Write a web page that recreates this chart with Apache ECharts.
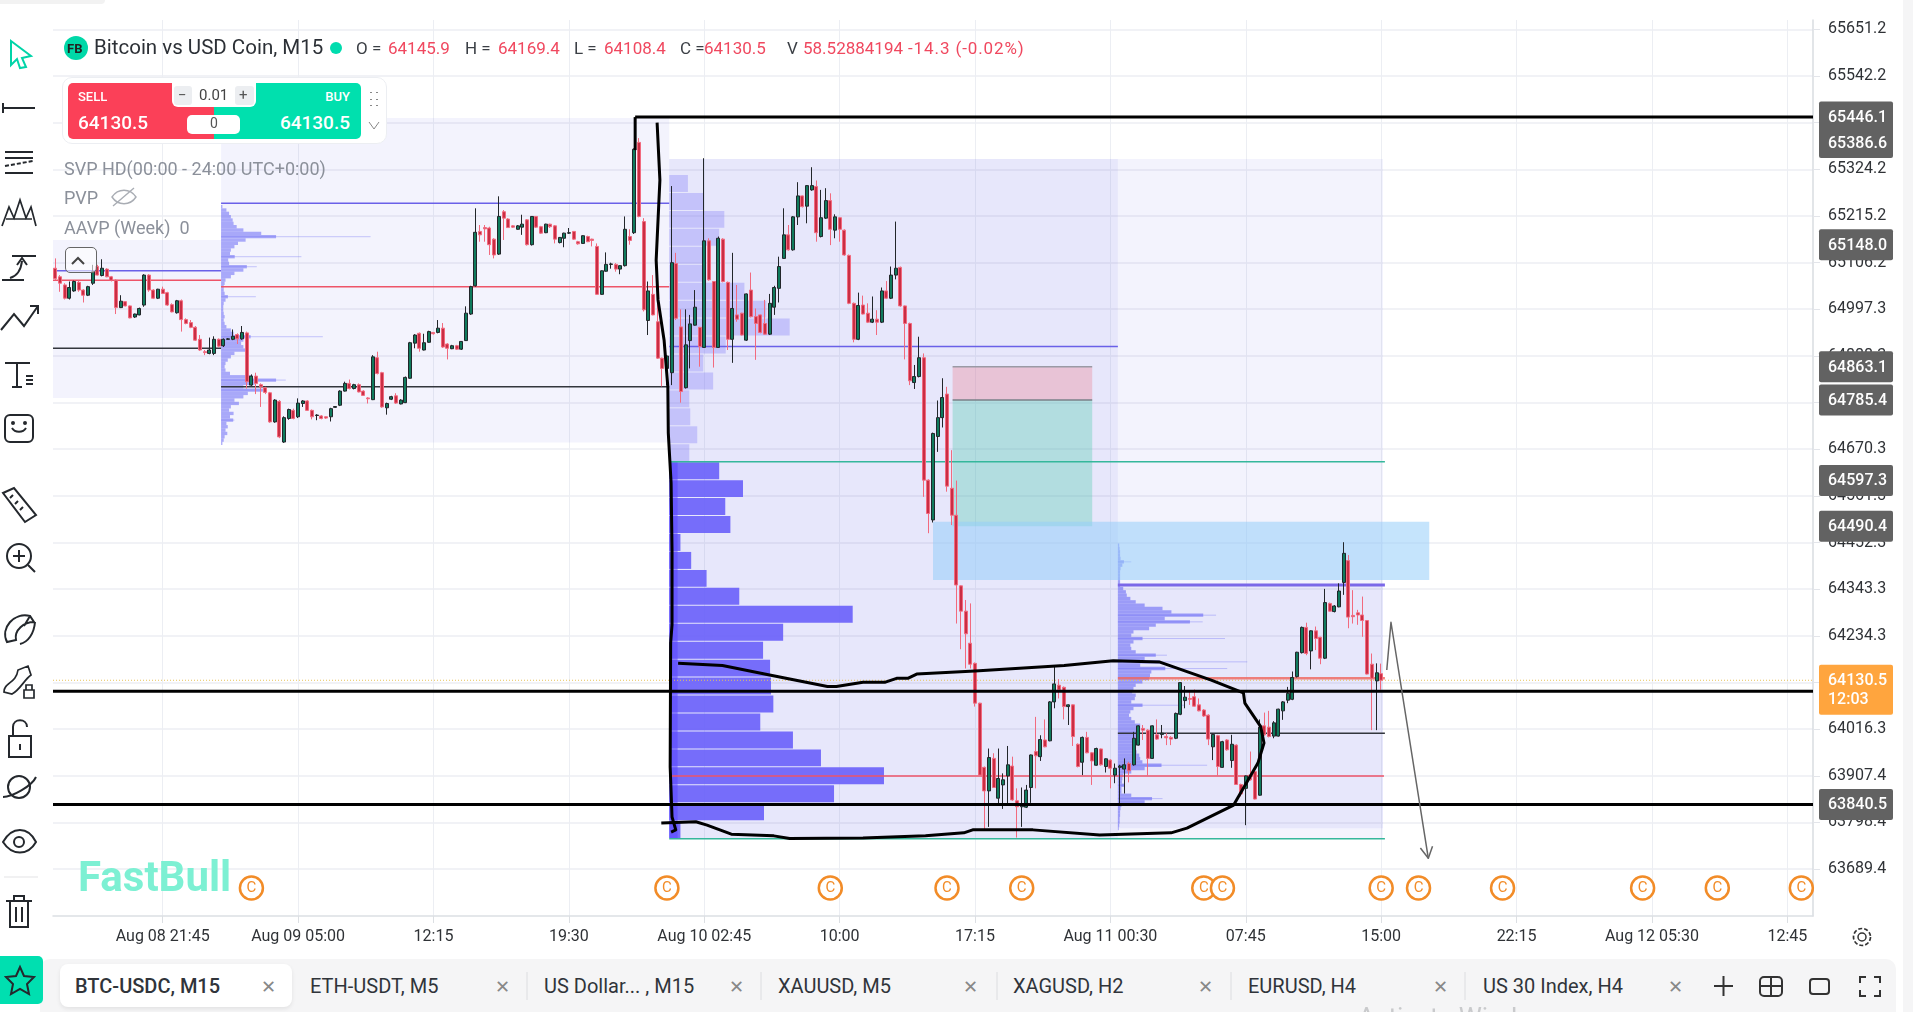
<!DOCTYPE html>
<html><head><meta charset="utf-8"><title>BTC-USDC M15</title>
<script src="https://cdn.jsdelivr.net/npm/echarts@6/dist/echarts.min.js"></script>
<style>
html,body{margin:0;padding:0;background:#fff;overflow:hidden;font-family:Roboto,"Noto Sans",sans-serif}
#chart{position:absolute;left:0;top:0;width:1913px;height:1012px}
.t{position:absolute;white-space:nowrap;transform:translateY(-50%);z-index:5}
.b{position:absolute;z-index:4}
svg{position:absolute;left:0;top:0;z-index:6;pointer-events:none}
.gr{color:#8b909a;font-size:18px}.rd{color:#f0485f;font-size:17px}.dk{color:#3b3f45;font-size:17px}
.tab{font-size:20px;color:#30343a}.x{font-size:18px;color:#888;font-weight:300}
</style></head><body>
<div id="chart"></div>
<div class="b" style="left:0;top:0;width:105px;height:4px;background:#f2f2f2;border-radius:0 0 6px 0"></div>
<div class="b" style="left:1903px;top:0;width:10px;height:1012px;background:#f5f5f6"></div>
<!-- legend -->
<div class="b" style="left:64px;top:36px;width:24px;height:24px;border-radius:50%;background:#00d8a8"></div>
<div class="t" style="left:67px;top:48px;font-size:13px;font-weight:700;color:#222">FB</div>
<div class="t" style="left:94px;top:47px;font-size:20.5px;color:#2c3036">Bitcoin vs USD Coin, M15</div>
<div class="b" style="left:330px;top:42px;width:12px;height:12px;border-radius:50%;background:#00dcae"></div>
<div class="t dk" style="left:356px;top:48px">O =</div><div class="t rd" style="left:388px;top:48px">64145.9</div>
<div class="t dk" style="left:465px;top:48px">H =</div><div class="t rd" style="left:498px;top:48px">64169.4</div>
<div class="t dk" style="left:574px;top:48px">L =</div><div class="t rd" style="left:604px;top:48px">64108.4</div>
<div class="t dk" style="left:680px;top:48px">C =</div><div class="t rd" style="left:704px;top:48px">64130.5</div>
<div class="t dk" style="left:787px;top:48px">V</div><div class="t rd" style="left:803px;top:48px">58.52884194</div>
<div class="t rd" style="left:908px;top:48px;letter-spacing:.9px">-14.3 (-0.02%)</div>
<!-- order panel -->
<div class="b" style="left:62px;top:77px;width:325px;height:67px;background:#fff;border:1px solid #eceef2;border-radius:10px;box-sizing:border-box"></div>
<div class="b" style="left:68px;top:83px;width:146px;height:56px;background:#fb4058;border-radius:5px 0 0 5px"></div>
<div class="b" style="left:214px;top:83px;width:147px;height:56px;background:#00e0ae;border-radius:0 5px 5px 0"></div>
<div class="t" style="left:78px;top:96px;font-size:13px;font-weight:500;color:#fff">SELL</div>
<div class="t" style="left:78px;top:122px;font-size:19px;font-weight:500;color:#fff">64130.5</div>
<div class="t" style="right:1563px;top:96px;font-size:13px;font-weight:500;color:#fff">BUY</div>
<div class="t" style="right:1563px;top:122px;font-size:19px;font-weight:500;color:#fff">64130.5</div>
<div class="b" style="left:172px;top:83px;width:84px;height:24px;background:#fff;border-radius:0 0 6px 6px;z-index:5"></div>
<div class="b" style="left:174px;top:86px;width:18px;height:19px;background:#eceef1;border-radius:3px;z-index:5"></div>
<div class="b" style="left:235px;top:86px;width:19px;height:19px;background:#eceef1;border-radius:3px;z-index:5"></div>
<div class="t" style="left:178px;top:95px;font-size:15px;color:#555;z-index:6">−</div>
<div class="t" style="left:199px;top:95px;font-size:15px;color:#444;z-index:6">0.01</div>
<div class="t" style="left:239px;top:95px;font-size:15px;color:#555;z-index:6">+</div>
<div class="b" style="left:187px;top:115px;width:53px;height:19px;background:#fff;border-radius:5px;z-index:5"></div>
<div class="t" style="left:210px;top:123px;font-size:14px;color:#555;z-index:6">0</div>
<div class="t gr" style="left:64px;top:168px">SVP HD(00:00 - 24:00 UTC+0:00)</div>
<div class="t gr" style="left:64px;top:197px">PVP</div>
<div class="t gr" style="left:64px;top:227px">AAVP (Week)&nbsp; 0</div>
<div class="b" style="left:65px;top:247px;width:32px;height:26px;border:1px solid #666;border-radius:5px;box-sizing:border-box;background:rgba(255,255,255,.6)"></div>
<div class="t" style="left:78px;top:876px;font-size:42px;font-weight:700;color:#7df0d3">FastBull</div>
<!-- tabs -->
<div class="b" style="left:40px;top:959px;width:1856px;height:53px;background:#f5f5f6;border-radius:10px 10px 0 0"></div>
<div class="b" style="left:60px;top:964px;width:232px;height:43px;background:#fff;border-radius:8px;box-shadow:0 2px 4px rgba(0,0,0,.08);z-index:4"></div>
<div class="b" style="left:0;top:956px;width:43px;height:48px;background:#00dfb0;border-radius:0 5px 5px 0"></div>
<div class="t tab" style="left:75px;top:986px;font-weight:500">BTC-USDC, M15</div><div class="t x" style="left:261px;top:986px">✕</div>
<div class="t tab" style="left:310px;top:986px">ETH-USDT, M5</div><div class="t x" style="left:495px;top:986px">✕</div>
<div class="t tab" style="left:544px;top:986px">US Dollar... , M15</div><div class="t x" style="left:729px;top:986px">✕</div>
<div class="t tab" style="left:778px;top:986px">XAUUSD, M5</div><div class="t x" style="left:963px;top:986px">✕</div>
<div class="t tab" style="left:1013px;top:986px">XAGUSD, H2</div><div class="t x" style="left:1198px;top:986px">✕</div>
<div class="t tab" style="left:1248px;top:986px">EURUSD, H4</div><div class="t x" style="left:1433px;top:986px">✕</div>
<div class="t tab" style="left:1483px;top:986px">US 30 Index, H4</div><div class="t x" style="left:1668px;top:986px">✕</div>
<div class="t" style="left:1358px;top:1017px;font-size:26px;color:#c9cacc">Activate Windows</div>
<svg width="1913" height="1012" viewBox="0 0 1913 1012" fill="none" stroke="#24282d" stroke-width="2">
<path d="M11 41 31 56 22 58 26 67 20 68 17 59 11 65Z" stroke="#00d4a8"/>
<path d="M3 108H35M3 103V113"/>
<path d="M5 152H33M5 158H33M5 173H33"/><path d="M5 166 33 161" stroke-dasharray="4 2"/>
<path d="M2 226 9 207 14 218 20 200 26 218 31 207 36 226M6 219H32" stroke-width="1.7"/>
<path d="M12 256H36M2 280H24M10 278C17 276 21 270 22 261M17 265 22 258 27 265"/>
<path d="M1 330 14 314 24 326 38 306M30 306H38V314"/>
<path d="M5 363H30M17 363V386M12 387H22M26 380H33M26 384H33M26 376H33"/>
<rect x="5" y="415" width="28" height="27" rx="5"/><path d="M12 428C15 433 23 433 26 428"/><circle cx="13" cy="423" r="1"/><circle cx="25" cy="423" r="1"/>
<path d="M3 493 14 488 36 515 25 522ZM10 498 13 495M15 504 18 501M20 510 23 507"/>
<circle cx="19" cy="556" r="12"/><path d="M28 565 35 572M19 550V562M13 556H25"/>
<path d="M7 642C0 628 14 612 30 616L34 622C24 622 14 630 16 640ZM7 642 16 640M30 616 24 626M20 644C28 642 34 634 35 622"/>
<path d="M4 692C4 682 16 684 18 670L28 666 31 675C24 680 20 690 12 694ZM24 690H34V698H24ZM26 690V685H32V690" stroke-width="1.7"/>
<path d="M9 736H31V757H9ZM13 736V727C13 718 27 718 27 727M20 744V750"/>
<circle cx="19" cy="787" r="11"/><path d="M3 797C12 797 32 786 36 777"/>
<path d="M3 842C12 826 28 826 36 842C28 856 12 856 3 842Z"/><circle cx="19" cy="842" r="5"/>
<path d="M6 901H32M14 901V896H24V901M10 901V927H28V901M16 907V922M22 907V922"/>
<path d="M4 877H38" stroke="#ececee" stroke-width="1.5"/>
<path d="M20 967 24 976 34 977 27 984 29 994 20 989 11 994 13 984 6 977 16 976Z"/>
<path d="M72 264 78 258 84 264" stroke="#444"/>
<path d="M112 197C118 188 130 188 136 197C130 206 118 206 112 197ZM113 206 134 188" stroke="#a9adb4" stroke-width="1.4"/>
<path d="M369 122 374 129 379 122" stroke="#888" stroke-width="1"/>
<path d="M371 92v1M377 92v1M371 99v1M377 99v1M371 105v1M377 105v1" stroke="#888" stroke-width="2"/>
<circle cx="1862" cy="937" r="4" stroke="#333" stroke-width="1.5"/><circle cx="1862" cy="937" r="8.5" stroke="#333" stroke-width="1.7" stroke-dasharray="4 2"/>
<path d="M1714 986H1733M1723.5 976V996" stroke="#333"/>
<rect x="1760" y="977" width="22" height="19" rx="4" stroke="#333"/><path d="M1760 986H1782M1771 977V996" stroke="#333"/>
<rect x="1810" y="979" width="19" height="15" rx="3" stroke="#333"/>
<path d="M1860 983V977H1866M1874 977H1880V983M1880 990V996H1874M1866 996H1860V990" stroke="#333"/>
<path d="M527 972V1000M761 972V1000M997 972V1000M1231 972V1000M1465 972V1000" stroke="#dcdde0" stroke-width="1"/>
</svg>
<script>
// ---------- axis values ----------
const yTickLabels = [65651.2,65542.2,65433.2,65324.2,65215.2,65106.2,64997.3,64888.3,64779.3,64670.3,64561.3,64452.3,64343.3,64234.3,64125.3,64016.3,63907.4,63798.4,63689.4];
const xTickLabels = ['Aug 08 21:45','Aug 09 05:00','12:15','19:30','Aug 10 02:45','10:00','17:15','Aug 11 00:30','07:45','15:00','22:15','Aug 12 05:30','12:45'];
const firstTickBar = 23, barsPerTick = 29, totalBars = 377;
// ---------- candles, each row: open, close, low, high ----------
const barsAug08 = [
[65093,65069,65065,65116],[65073,65058,65038,65077],[65054,65023,65020,65058],[65023,65048,65020,65062],[65040,65062,65038,65064],[65060,65042,65038,65064],[65042,65030,65013,65044],[65030,65050,65028,65052],[65058,65085,65054,65101],[65097,65077,65076,65101],
[65076,65093,65074,65114],[65091,65073,65072,65093],[65073,65065,65062,65075],[65065,65001,64986,65067],[65001,65016,65000,65030],[65015,65005,65004,65016],[65005,64977,64976,65006],[64979,64986,64977,64987],[64984,64999,64983,65001],[65007,65077,65003,65079],
[65077,65042,65038,65079],[65042,65023,65021,65044],[65023,65044,65021,65045],[65044,65034,65033,65050],[65036,65007,65005,65038],[65008,64991,64990,65011],[64989,65017,64987,65019],[65017,64973,64945,65020],[64973,64964,64962,64976],[64966,64955,64953,64972],
[64955,64925,64923,64958],[64927,64902,64900,64937],[64898,64896,64890,64902],[64894,64902,64892,64931],[64894,64927,64890,64934],[64927,64911,64908,64929]];
const barsAug09 = [
[64912,64927,64909,64929],[64927,64928,64926,64930],[64927,64934,64925,64950],[64938,64928,64916,64941],[64928,64943,64926,64958],[64942,64828,64812,64945],[64820,64841,64818,64845],[64841,64824,64799,64849],[64821,64816,64769,64824],[64814,64803,64799,64816],
[64802,64734,64732,64804],[64734,64785,64732,64787],[64782,64699,64696,64785],[64687,64744,64685,64747],[64742,64763,64739,64765],[64761,64742,64740,64765],[64746,64778,64743,64789],[64777,64783,64769,64785],[64783,64761,64760,64785],[64761,64746,64740,64763],
[64749,64750,64738,64752],[64748,64742,64740,64750],[64746,64743,64741,64747],[64746,64765,64735,64767],[64768,64770,64767,64771],[64773,64806,64771,64808],[64806,64824,64805,64828],[64824,64812,64810,64833],[64812,64821,64810,64823],[64821,64804,64803,64824],
[64806,64796,64795,64808],[64790,64788,64777,64792],[64786,64886,64785,64890],[64884,64847,64845,64898],[64849,64769,64767,64851],[64767,64777,64751,64779],[64787,64793,64785,64795],[64795,64778,64776,64801],[64776,64785,64775,64787],[64779,64838,64778,64840],
[64836,64919,64835,64921],[64918,64937,64906,64939],[64941,64906,64898,64943],[64902,64919,64901,64940],[64920,64945,64919,64947],[64943,64940,64938,64944],[64943,64953,64941,64972],[64953,64909,64907,64965],[64916,64906,64880,64918],[64905,64912,64904,64914],
[64912,64904,64902,64914],[64904,64922,64902,64923],[64924,64988,64923,65004],[64986,65050,64984,65052],[65052,65177,65050,65233],[65179,65171,65155,65194],[65188,65185,65155,65194],[65187,65148,65124,65190],[65161,65124,65116,65163],[65126,65214,65124,65261],
[65225,65210,65159,65229],[65208,65188,65187,65210],[65192,65189,65187,65194],[65184,65192,65183,65194],[65189,65196,65171,65218],[65206,65148,65146,65208],[65148,65214,65146,65215],[65214,65189,65187,65215],[65190,65175,65173,65192],[65176,65196,65175,65197],
[65196,65190,65187,65197],[65192,65161,65151,65194],[65153,65165,65151,65166],[65163,65175,65142,65176],[65175,65176,65173,65187],[65179,65161,65159,65180],[65155,65150,65148,65157],[65151,65169,65150,65170],[65167,65155,65154,65169],[65161,65158,65144,65162],
[65144,65032,65031,65151],[65032,65087,65031,65088],[65086,65102,65085,65130],[65102,65103,65092,65106],[65102,65091,65085,65105],[65091,65099,65079,65100],[65099,65184,65097,65214],[65167,65158,65148,65184],[65176,65371,65173,65373],[65387,65214,65212,65397],
[65202,64996,64992,65210],[64971,65040,64937,65062],[65032,64984,64983,65077],[64968,64883,64881,65011],[64883,64859,64817,64884],[64859,64888,64820,64890]];
const barsAug10 = [
[64849,65106,64820,65285],[65104,64976,64972,65129],[64956,64805,64779,64997],[64814,64914,64812,64997],[64924,64963,64859,64984],[64960,65002,64959,65042],[64955,64910,64863,64956],[64908,65157,64907,65350],[65157,65066,65064,65163],[65062,64908,64861,65063],
[64908,65163,64907,65167],[65161,65062,65060,65163],[65060,64927,64902,65062],[64927,64999,64872,65129],[64984,64974,64968,65054],[64988,64937,64936,64989],[64925,65033,64923,65034],[65042,64980,64978,65083],[64980,64964,64879,64999],[64984,64943,64941,64985],
[64964,64939,64938,65019],[64939,65011,64937,65033],[65002,65048,64984,65052],[65046,65097,65013,65120],[65116,65171,65115,65233],[65171,65136,65134,65194],[65136,65213,65134,65215],[65213,65262,65194,65294],[65262,65237,65235,65263],[65238,65286,65198,65287],
[65276,65286,65274,65329],[65284,65176,65155,65298],[65167,65211,65165,65276],[65210,65251,65208,65280],[65251,65184,65147,65268],[65182,65213,65163,65219],[65211,65184,65155,65213],[65182,65124,65122,65184],[65123,65011,65009,65125],[65011,64927,64920,65013],
[64927,65006,64925,65036],[65007,64986,64985,65029],[64988,64967,64965,65011],[64967,64974,64965,65027],[64974,64967,64937,64995],[64967,65040,64965,65048],[65040,65023,65021,65063],[65023,65077,65021,65097],[65077,65093,65067,65202],[65095,65005,65003,65097],
[65005,64964,64880,65006],[64964,64830,64820,64966],[64826,64840,64811,64867],[64840,64884,64838,64933],[64884,64598,64559,64894],[64598,64520,64474,64600],[64505,64707,64499,64709],[64700,64744,64664,64784],[64744,64791,64721,64836],[64799,64584,64571,64816],
[64579,64516,64493,64668],[64516,64353,64263,64597],[64351,64292,64203,64352],[64292,64239,64158,64318],[64217,64168,64158,64310],[64170,64077,64069,64172],[64077,63909,63908,64078],[63927,63872,63781,63929],[63872,63950,63788,63971],[63948,63880,63879,63960],
[63855,63901,63843,63971],[63886,63898,63830,63913],[63907,63933,63843,63977],[63930,63851,63849,63952],[63849,63835,63763,63878],[63835,63839,63788,63880],[63834,63874,63832,63886],[63880,63956,63844,63957],[63964,63954,63878,64045],[63952,63992,63942,64002],
[63991,63975,63974,64039],[63989,64080,63988,64082],[64080,64122,64065,64166],[64119,64108,64088,64133],[64114,64069,64039,64116],[64069,64073,64026,64074],[64073,63999,63977,64074],[63981,63929,63927,63983],[63939,63997,63909,63999],[63997,63961,63960,64010],
[63961,63942,63886,63963],[63932,63971,63931,63973],[63970,63933,63931,63971],[63929,63947,63915,63948],[63944,63925,63878,63946],[63909,63925,63890,63936]];
const barsAug11 = [
[63927,63930,63843,63933],[63923,63933,63866,63948],[63936,63919,63892,63940],[63933,63995,63931,64010],[63979,64024,63978,64025],[64018,64014,63991,64026],[64014,63948,63907,64016],[63948,64024,63947,64025],[64003,63993,63991,64039],[64004,64007,63995,64026],
[63999,63996,63979,64007],[63997,63993,63979,64000],[63995,64053,63993,64055],[64051,64125,64049,64126],[64083,64091,64065,64117],[64088,64086,64073,64104],[64092,64070,64069,64109],[64073,64059,64058,64088],[64061,64047,64045,64063],[64049,63993,63979,64051],
[63975,64004,63944,64006],[64001,63929,63907,64003],[63927,63987,63926,63989],[63991,63968,63966,63993],[63943,63981,63926,64003],[63979,63887,63886,63981],[63887,63865,63859,63889],[63878,63907,63792,63908],[63909,63898,63896,63964],[63917,63853,63852,63919],
[63862,64021,63861,64039],[64024,64003,64001,64055],[64021,63999,63997,64059],[64000,64031,63995,64035],[64000,64063,63999,64064],[64059,64080,64038,64082],[64084,64100,64077,64115],[64086,64137,64084,64151],[64139,64196,64137,64197],[64195,64254,64193,64256],
[64254,64193,64189,64265],[64199,64246,64156,64247],[64246,64228,64201,64256],[64231,64182,64168,64232],[64182,64312,64180,64344],[64310,64292,64291,64312],[64291,64304,64289,64306],[64302,64339,64301,64357],[64359,64427,64330,64453],[64410,64278,64252,64423],
[64282,64279,64263,64341],[64288,64283,64260,64295],[64283,64270,64232,64326],[64270,64145,64144,64271],[64168,64135,64014,64193],[64129,64148,64014,64170],[64145.9,64130.5,64108.4,64169.4]];
// ---------- session rectangles: startBar, endBar, lowPrice, highPrice ----------
const sessionBoxes = [[-0.5,35.5,64790,65159],[35.5,131.5,64686,65444],[131.5,284.4,63762,65348],[131.5,227.6,63762,65348],[227.6,284.4,63785,64353]];
const riskBox = [[192.2,222.1,64785.4,64863.1]];
const rewardBox = [[192.2,222.1,64490.4,64785.4]];
const demandZone = [[188,294.3,64365,64501]];
// ---------- volume profiles ----------
const weekProfileUpper = [4,7.3,11.8,10.7,7.3,7.9,16.1,20.8,25.8,12.1,7.3,9.4,4.3,4.5,6,4.3];
const weekProfileLower = [10.7,15.8,12,13.1,2.4,4.7,8,15,39.3,24.4,20.1,21.6,21.8,22.3,19.5,26.5,32.5,46,35.3,20.3,2.4];
const weekProfileTop = 65310.8, weekRowSize = 41.93;
const aug9Profile = [3,12,18,22,26,28,35,50,90,335,55,38,30,22,20,180,16,18,80,50,30,22,10,8,6,6,8,78,10,6,5,5,6,8,6,8,12,22,28,228,50,45,50,55,30,22,15,10,8,10,20,70,145,75,50,100,60,50,30,40,22,18,28,20,30,12,15,10,14,8,6,3];
const aug11Profile = [3,4,5,5,6,30,10,6,5,5,5,5,5,12,18,20,28,40,60,100,120,220,105,190,85,70,35,30,240,35,28,30,40,110,60,290,50,245,75,72,70,55,40,35,32,40,38,30,150,35,28,25,30,38,50,50,45,42,40,35,38,40,42,48,50,55,200,60,30,12,10,9,15,8,8,30,100,60,8,6,5,5,4,4,3,2];
const aug9ProfileTop = 65240.7, aug11ProfileTop = 64450, fineRowSize = 7.79, fineUnitsPerBar = 10.46;
// ---------- level lines: startBar, endBar, price ----------
const blueLevels = [[-0.5,35.5,65087],[35.5,131.5,65245],[131.5,227.6,64910]];
const blueThickLevels = [[227.6,284.8,64353]];
const redLevels = [[-0.5,35.5,65065],[35.5,131.5,65050],[131.5,284.6,63907]];
const orangeLevels = [[227.6,284.8,64135]];
const darkLevels = [[-0.5,35.5,64906],[35.5,131.5,64816],[227.6,284.8,64007]];
const greenLevels = [[131.5,284.8,64641],[131.5,284.8,63760]];
const blackLevels = [[-0.5,376.5,64104.7],[-0.5,376.5,63840.5],[124.2,376.5,65446.1]];
const lastPriceLine = [[-0.5,376.5,64130.5]];
// ---------- hand drawings ----------
const stemLine = [[124.2,65369],[124.2,65446.1]];
const curveLeft = [[128.9,65433],[129.5,65299],[128.7,65112],[129.1,65019],[130.4,64925],[131.2,64816],[131.3,64708],[131.9,64591],[132.1,64435],[132.1,64260],[131.8,64218],[131.7,63928],[132.1,63811],[132.9,63781],[131.9,63776]];
const curveLoop = [[129.8,63797],[137.2,63800],[139.6,63792],[144.8,63771],[153.9,63767],[157.3,63761],[173,63762],[186.4,63767],[194.6,63774],[196.5,63781],[209.4,63781],[223.7,63769],[239,63774],[242.4,63785],[252.4,63839],[257.6,63937],[258.9,63984],[258.2,64022],[254.8,64077],[254.5,64101],[247.6,64131],[236.6,64173],[226.6,64176],[216.1,64165],[197,64152],[184.5,64145],[182.6,64135],[180.2,64135],[177.8,64126],[173,64126],[167.3,64116],[165.4,64116],[153,64143],[142.9,64165],[133.4,64170]];
const arrowLine = [[285.2,64154.5],[286.1,64266],[294.1,63714.6]];
const arrowHead = [[292.4,63738.6],[294.1,63714.6],[295,63743]];
// ---------- events and price tags ----------
const eventBars = [42,131,166,191,207,246,250,284,292,310,340,356,374];
const eventPrice = 63645;
const grayTags = [65446.1,65386.6,65148.0,64863.1,64785.4,64597.3,64490.4,63840.5];
const lastTag = [64130.5];
const lastTagTimer = '12:03';

// ---------- helpers ----------
const bars = [...barsAug08,...barsAug09,...barsAug10,...barsAug11];
const candleData = bars.map((r,i)=>[i,r[0],r[1],r[2],r[3]]);
const rectSeries = (name,rows,fill,z,inset) => ({
  name,type:'custom',z,silent:true,data:rows,clip:false,
  renderItem:(p,api)=>{
    const a=api.coord([api.value(0),api.value(3)]),b=api.coord([api.value(1),api.value(2)]);
    return {type:'rect',shape:{x:a[0],y:a[1],width:b[0]-a[0],height:b[1]-a[1]-(inset||0)},style:{fill}};
  }
});
const levelSeries = (name,rows,stroke,lineWidth,z,dash) => ({
  name,type:'custom',z,silent:true,data:rows,clip:false,
  renderItem:(p,api)=>{
    const a=api.coord([api.value(0),api.value(2)]),b=api.coord([api.value(1),api.value(2)]);
    return {type:'line',shape:{x1:a[0],y1:a[1],x2:b[0],y2:b[1]},style:{stroke,lineWidth,lineDash:dash||null}};
  }
});
const pathSeries = (name,data,color,width,z) => ({name,type:'line',data,z,silent:true,showSymbol:false,symbol:'none',animation:false,lineStyle:{color,width,join:'round'},clip:false});
// a fine profile splits into a solid core and faint one-pixel spikes where a row sticks far past its neighbours
const coreWidth = (vals,k) => Math.min(vals[k],1.7*((vals[k-1]??vals[k])+(vals[k+1]??vals[k]))/2);
const fineRows = (vals,top,base) => vals.map((v,k)=>[base,base+coreWidth(vals,k)/fineUnitsPerBar,top-fineRowSize*(k+1),top-fineRowSize*k]);
const fineSpikes = (vals,top,base) => vals.map((v,k)=>[base,base+v/fineUnitsPerBar,top-fineRowSize*(k+0.5),coreWidth(vals,k)<v]).filter(r=>r[3]).map(r=>r.slice(0,3));
const weekRows = (vals,offset) => vals.map((v,k)=>[131.5,131.5+v,weekProfileTop-weekRowSize*(k+offset+1),weekProfileTop-weekRowSize*(k+offset)]);
const tagSeries = (name,rows,fill,h,extra) => ({
  name,type:'custom',z:20,silent:true,clip:false,data:rows.map(v=>[0,v]),
  renderItem:(p,api)=>{
    const y=api.coord([0,api.value(1)])[1];
    const top=y-15.5;
    const kids=[{type:'rect',shape:{x:1819,y:top,width:74,height:h,r:2},style:{fill}},
      {type:'text',style:{text:api.value(1).toFixed(1),x:1828,y:y+1,fill:'#fff',font:'500 16px Roboto',verticalAlign:'middle'}}];
    if(extra) kids.push({type:'text',style:{text:extra,x:1828,y:y+20,fill:'#fff',font:'500 16px Roboto',verticalAlign:'middle'}});
    return {type:'group',children:kids};
  }
});

const chart = echarts.init(document.getElementById('chart'),null,{width:1913,height:1012});
chart.setOption({
  animation:false,
  backgroundColor:'#fff',
  grid:{left:53,right:100,top:20,bottom:96,containLabel:false},
  xAxis:{type:'value',min:-0.5,max:totalBars-0.5,
    axisLine:{show:true,onZero:false,lineStyle:{color:'#dcdfe3',width:1.5}},
    axisTick:{show:true,length:7,lineStyle:{color:'#dcdfe3'},customValues:xTickLabels.map((_,k)=>firstTickBar+k*barsPerTick)},
    axisLabel:{show:true,color:'#2f3236',fontFamily:'Roboto',fontSize:16,margin:13,
      customValues:xTickLabels.map((_,k)=>firstTickBar+k*barsPerTick),
      formatter:v=>xTickLabels[Math.round((v-firstTickBar)/barsPerTick)]||''},
    splitLine:{show:true,lineStyle:{color:'#eceef3',width:1}}},
  yAxis:{type:'value',position:'right',min:63579.8,max:65672.9,
    axisLine:{show:true,onZero:false,lineStyle:{color:'#d9dce1',width:1.5}},
    axisTick:{show:true,length:7,lineStyle:{color:'#e3e5ea'},customValues:yTickLabels},
    axisLabel:{show:true,color:'#2f3236',fontFamily:'Roboto',fontSize:16,margin:15,padding:[3,0,0,0],customValues:yTickLabels,formatter:v=>v.toFixed(1)},
    splitLine:{show:true,lineStyle:{color:'#eceef3',width:1.5}}},
  series:[
    rectSeries('sessions',sessionBoxes,'rgba(80,90,230,0.07)',1),
    rectSeries('week profile upper',weekRows(weekProfileUpper,0),'rgba(115,110,250,0.30)',2,1),
    rectSeries('week profile lower',weekRows(weekProfileLower,weekProfileUpper.length),'rgba(105,95,250,0.90)',2,1),
    rectSeries('week base',[[131.5,133.3,63762,64641]],'rgba(90,70,255,0.55)',2),
    rectSeries('aug 9 profile',fineRows(aug9Profile,aug9ProfileTop,35.5),'rgba(105,105,245,0.55)',2),
    rectSeries('aug 11 profile',fineRows(aug11Profile,aug11ProfileTop,227.6),'rgba(105,105,245,0.60)',2),
    levelSeries('aug 9 spikes',fineSpikes(aug9Profile,aug9ProfileTop,35.5),'rgba(105,105,245,0.35)',1,2),
    levelSeries('aug 11 spikes',fineSpikes(aug11Profile,aug11ProfileTop,227.6),'rgba(105,105,245,0.35)',1,2),
    rectSeries('risk',riskBox,'rgba(235,120,140,0.33)',3),
    rectSeries('reward',rewardBox,'rgba(70,200,170,0.33)',3),
    rectSeries('zone',demandZone,'rgba(150,205,250,0.55)',3),
    levelSeries('risk top',[[192.2,222.1,64863.1]],'#9a9aa5',1.5,4),
    levelSeries('risk mid',[[192.2,222.1,64785.4]],'#7a8088',1.5,4),
    levelSeries('last price',lastPriceLine,'#e8c25a',1,4,[1,2]),
    levelSeries('blue levels',blueLevels,'#6a60e8',1.5,4),
    levelSeries('blue thick',blueThickLevels,'#7b68e8',3,4),
    levelSeries('red levels',redLevels,'#ee5468',1.5,4),
    levelSeries('orange level',orangeLevels,'rgba(240,100,90,0.8)',2.5,4),
    levelSeries('dark levels',darkLevels,'#33363d',1.5,4),
    levelSeries('green levels',greenLevels,'#35b79b',1.5,4),
    {name:'BTC-USDC',type:'candlestick',z:6,silent:true,barWidth:3.5,clip:false,
      encode:{x:0,y:[1,2,3,4]},data:candleData,
      itemStyle:{color:'#0f7a5c',borderColor:'#22262a',color0:'#c92e44',borderColor0:'#f26a7e',borderWidth:1}},
    levelSeries('black levels',blackLevels,'#000',3,8),
    pathSeries('stem',stemLine,'#000',3,8),
    pathSeries('curve left',curveLeft,'#000',3,8),
    pathSeries('curve loop',curveLoop,'#000',3,8),
    pathSeries('arrow',arrowLine,'#666',1.5,8),
    pathSeries('arrow head',arrowHead,'#666',1.5,8),
    {name:'events',type:'scatter',z:9,silent:true,symbol:'circle',symbolSize:23,
      data:eventBars.map(b=>[b,eventPrice]),
      itemStyle:{color:'#fff',borderColor:'#f28c28',borderWidth:2.5,opacity:1},
      label:{show:true,position:'inside',formatter:'C',color:'#f28c28',fontSize:15,fontFamily:'Roboto'}},
    tagSeries('price tags',grayTags,'#626262',31),
    tagSeries('last tag',lastTag,'#ffa53e',50,lastTagTimer)
  ]
});
</script>
</body></html>
